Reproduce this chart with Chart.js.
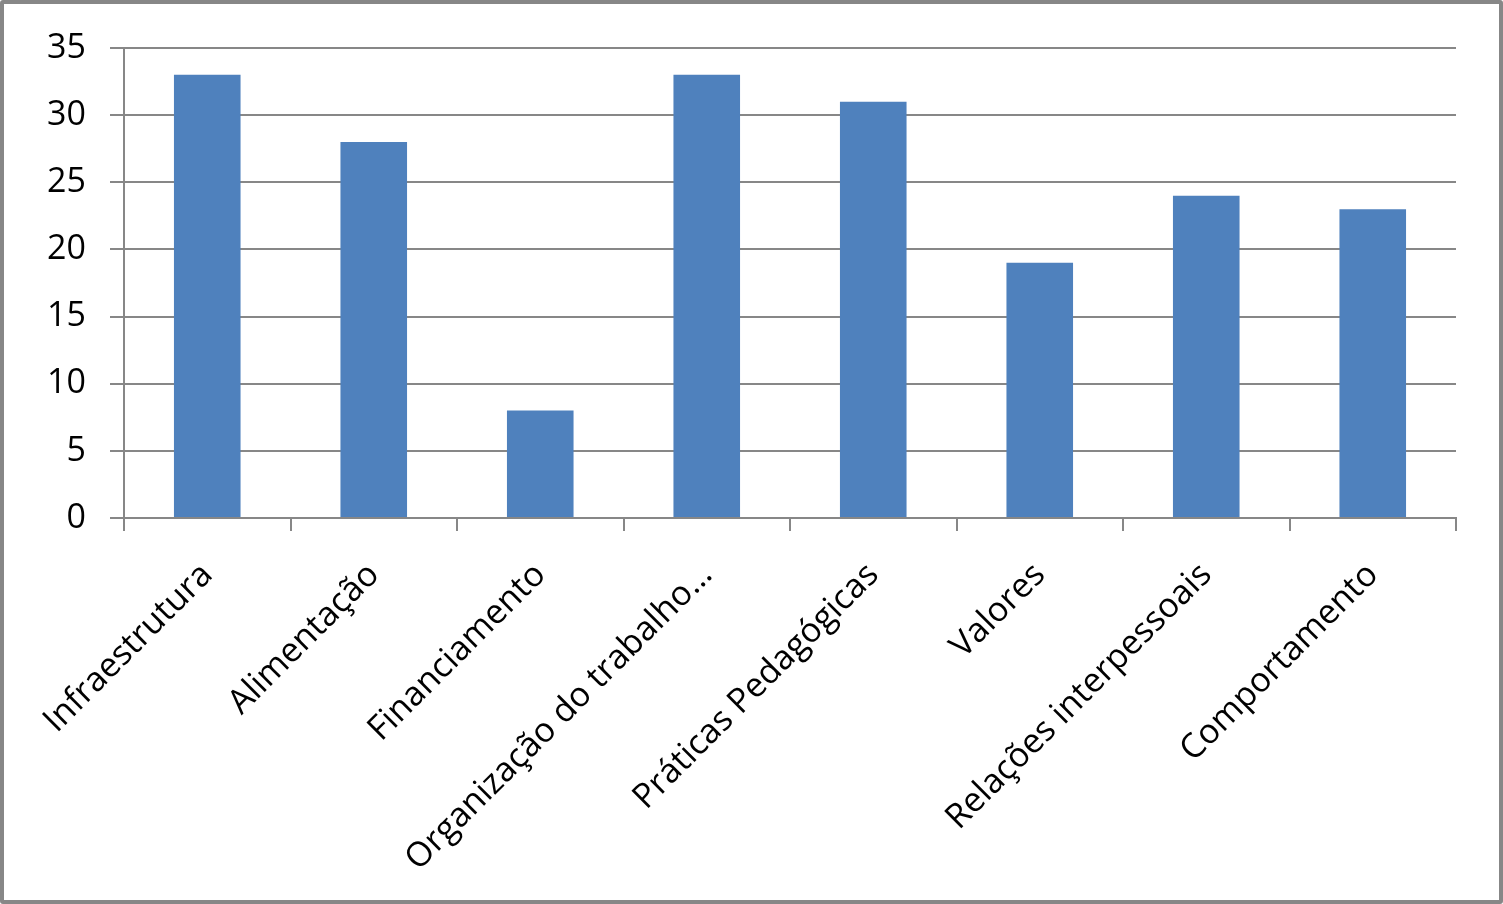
<!DOCTYPE html>
<html>
<head>
<meta charset="utf-8">
<script src="https://cdn.jsdelivr.net/npm/chart.js@4/dist/chart.umd.min.js"></script>
<style>
  html, body { margin: 0; padding: 0; background: #fff; }
  #wrap { position: relative; width: 1503px; height: 904px; }
  #c { position: absolute; left: 0; top: 0; }
  #frame { position: absolute; left: 0; top: 0; width: 1503px; height: 904px; box-sizing: border-box; border: 4px solid #878787; border-radius: 3px; pointer-events: none; }
</style>
</head>
<body>
<div id="wrap">
  <canvas id="c" width="1503" height="904"></canvas>
  <div id="frame"></div>
</div>
<script>
const categories = ["Infraestrutura", "Alimentação", "Financiamento", "Organização do trabalho…", "Práticas Pedagógicas", "Valores", "Relações interpessoais", "Comportamento"];
const values = [33, 28, 8, 33, 31, 19, 24, 23];
const yTicks = [0, 5, 10, 15, 20, 25, 30, 35];

const FONT = "'Open Sans', 'DejaVu Sans', sans-serif";

new Chart(document.getElementById('c'), {
  type: 'bar',
  data: {
    labels: categories,
    datasets: [{
      data: values,
      backgroundColor: '#4F81BD',
      borderWidth: 0,
      categoryPercentage: 1.0,
      barPercentage: 0.4
    }]
  },
  options: {
    responsive: false,
    animation: false,
    devicePixelRatio: 1,
    layout: { padding: { left: 0, top: 48, right: 47, bottom: 0 } },
    plugins: { legend: { display: false }, tooltip: { enabled: false } },
    scales: {
      x: {
        grid: { display: true, offset: true, drawOnChartArea: false, drawTicks: true, tickLength: 13, color: '#878787', lineWidth: 2 },
        border: { display: true, color: '#878787', width: 2 },
        ticks: { color: '#000', font: { family: FONT, size: 34 }, minRotation: 45, maxRotation: 45, autoSkip: false, padding: 24 },
        afterFit: (s) => { s.height = 904 - 518; }
      },
      y: {
        min: 0, max: 35,
        afterBuildTicks: (s) => { s.ticks = yTicks.map(v => ({ value: v })); },
        grid: { color: '#878787', lineWidth: 2, tickLength: 14, drawTicks: true },
        border: { display: true, color: '#878787', width: 2 },
        ticks: { color: '#000', font: { family: FONT, size: 34 }, padding: 24 },
        afterFit: (s) => { s.width = 124; }
      }
    }
  }
});
</script>
</body>
</html>
